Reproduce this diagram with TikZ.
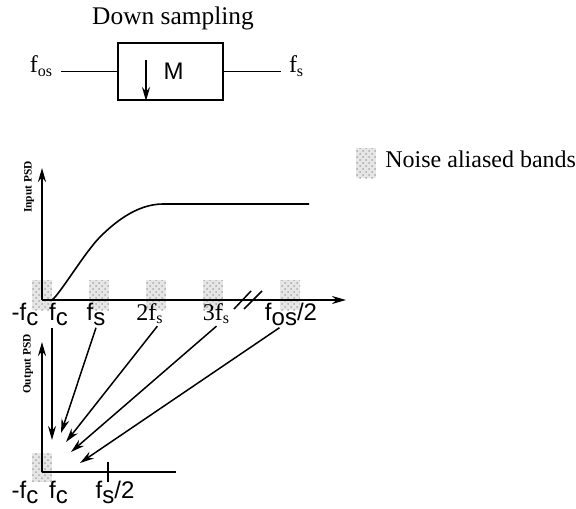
\documentclass[tikz,border=0pt]{standalone}
\usepackage{fontspec}
\setmainfont{Liberation Serif}
\newfontfamily\helv{Liberation Sans}
\usetikzlibrary{arrows.meta, positioning, calc, patterns}
\definecolor{bandfill}{HTML}{E6E6E6}
\definecolor{banddot}{HTML}{ABABAB}

% big sans subscript as in the drawing
\newcommand{\hsub}[2]{{\helv #1\raisebox{-0.4ex}{#2}}}

\begin{document}
\begin{tikzpicture}[
  x=0.5pt, y=-0.5pt,
  >={Stealth[length=7pt, width=4pt]},
  every node/.style={font=\large},
  axis/.style={line width=1pt},
  alias/.style={line width=0.75pt, ->},
  band/.style={preaction={fill=bandfill}, pattern=crosshatch dots, pattern color=banddot},
  lab/.style={anchor=base, inner sep=1pt},
  psd/.style={font=\fontsize{5.7}{7}\selectfont\bfseries, rotate=90},
]
\useasboundingbox (0,0) rectangle (576,508);

% ============ Down sampling block ============
\node[lab, font=\fontsize{12.7}{15}\selectfont] (title) at (173,25) {Down sampling};
\node[draw, line width=1pt, minimum width=52.5pt, minimum height=28.5pt,
      inner sep=0, font=\large\helv] (dsbox) at (170.5,71.5) {\hspace{3pt}M};
\node[anchor=base east, inner sep=0, outer sep=4pt] (fos) at (61,73) {f\textsubscript{os}};
\node[anchor=base west, inner sep=0, outer sep=4pt] (fsout) at (281,73) {f\textsubscript{s}};
\draw[line width=0.75pt] (fos.east |- dsbox.west) -- (dsbox.west);
\draw[line width=0.75pt] (dsbox.east) -- (fsout.west |- dsbox.east);
\coordinate (dstop) at (146,60);
\draw[line width=0.75pt, ->] (dstop) -- (dstop |- dsbox.south);

% ============ Legend ============
\fill[band] (356,148) rectangle (376,178);
\node[anchor=base west, inner sep=0] (legend) at (385,167) {Noise aliased bands};

% ============ Input PSD ============
\coordinate (o1) at (42,300);
\coordinate (ytop1) at (42,168);
\coordinate (xend1) at (346,300);

% aliased bands
\foreach \x in {42, 99, 156, 213, 290} {
  \fill[band] (\x-10,280) rectangle (\x+10,310);
}

\draw[axis, ->] (o1) -- (ytop1);
\draw[axis, ->] (o1) -- (xend1);
\node[psd] (inpsd) at (29,187) {Input PSD};

% break marks
\draw[line width=0.75pt] (234,309) -- (251,291);
\draw[line width=0.75pt] (244,309) -- (262,291);

% spectrum
\draw[line width=0.8pt] (52,300) .. controls (60,294) and (85,252) .. (100,237)
  .. controls (113,224) and (136,204) .. (163,204) -- (309,204);

% frequency labels
\node[lab] (lmfc) at (25,320) {\hsub{-f}{c}};
\node[lab] (lfc)  at (58.5,320) {\hsub{f}{c}};
\node[lab] (lfs)  at (96,320) {\hsub{f}{s}};
\node[lab] (l2fs) at (150,320) {2f\textsubscript{s}};
\node[lab] (l3fs) at (216.5,320) {3f\textsubscript{s}};
\node[lab] (lfos) at (291,320) {{\helv f\raisebox{-0.4ex}{os}/2}};

% ============ Output PSD ============
\coordinate (o2) at (42,472);
\coordinate (ytop2) at (42,342);
\coordinate (xend2) at (176,472);

\fill[band] (32,453) rectangle (52,482);
\draw[axis, ->] (o2) -- (ytop2);
\draw[line width=0.8pt] (o2) -- (xend2);
\draw[line width=0.8pt] (108,462) -- (108,482);
\node[psd] (outpsd) at (28,364) {Output PSD};

\node[lab] (omfc) at (25,498) {\hsub{-f}{c}};
\node[lab] (ofc)  at (58.5,498) {\hsub{f}{c}};
\node[lab] (ofs2) at (115,498) {{\helv f\raisebox{-0.4ex}{s}/2}};

% ============ Folding arrows ============
\coordinate (e1) at (52,440);
\coordinate (e2) at (61,433);
\coordinate (e3) at (66,442);
\coordinate (e4) at (71,452);
\coordinate (e5) at (80,463);

\draw[alias] (e1 |- lfc.south) -- (e1);
\draw[alias] (lfs.south) -- (e2);
\draw[alias] (l2fs.300) -- (e3);
\draw[alias] (l3fs.south) -- (e4);
\draw[alias] (lfos.230) -- (e5);

\end{tikzpicture}
\end{document}
